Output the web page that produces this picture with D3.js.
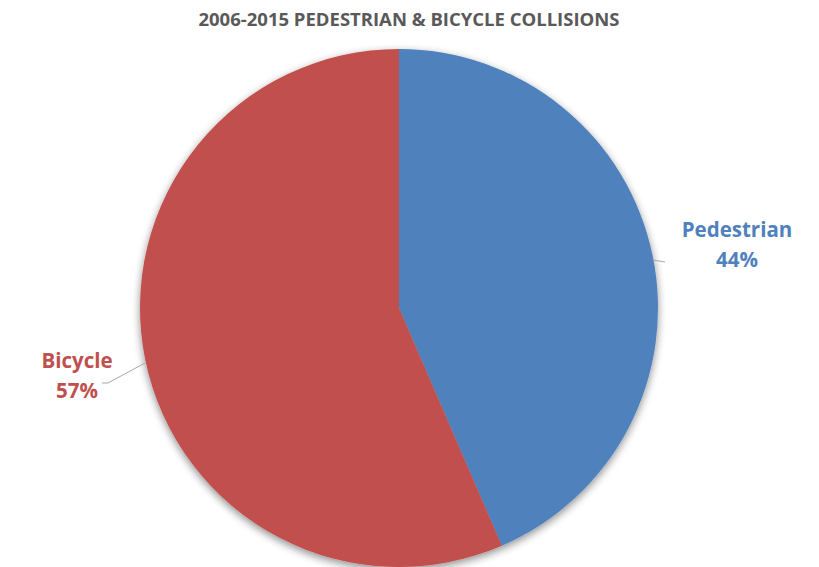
<!DOCTYPE html>
<html><head><meta charset="utf-8">
<script src="https://cdn.jsdelivr.net/npm/d3@7"></script>
<style>body{margin:0;background:#fff}svg{display:block}</style>
</head><body>
<script>
const categories = ["Pedestrian", "Bicycle"];
const values = [43.5, 56.5];
const colors = ["#4F81BD", "#C0504D"];
const title = "2006-2015 PEDESTRIAN & BICYCLE COLLISIONS";

const W = 819, H = 567, cx = 399, cy = 308, R = 259;
const svg = d3.select("body").append("svg").attr("width", W).attr("height", H);
const defs = svg.append("defs");
const f = defs.append("filter").attr("id","sh").attr("x","-20%").attr("y","-20%").attr("width","140%").attr("height","140%");
f.append("feGaussianBlur").attr("in","SourceAlpha").attr("stdDeviation",4);
f.append("feOffset").attr("dx",0).attr("dy",3).attr("result","b");
f.append("feComponentTransfer").append("feFuncA").attr("type","linear").attr("slope",0.45);
const m = f.append("feMerge"); m.append("feMergeNode"); m.append("feMergeNode").attr("in","SourceGraphic");

svg.append("text").attr("x", 409).attr("y", 26).attr("text-anchor","middle")
  .attr("font-family","Open Sans, sans-serif").attr("font-weight","bold").attr("font-size",18.5)
  .attr("fill","#595959").text(title);

const data = categories.map((c,i)=>({c, v: values[i], col: colors[i]}));
const pie = d3.pie().value(d=>d.v).sort(null);
const arcs = pie(data);
const arc = d3.arc().innerRadius(0).outerRadius(R);
const g = svg.append("g").attr("transform",`translate(${cx},${cy})`);
g.append("g").attr("filter","url(#sh)").selectAll("path").data(arcs).join("path")
  .attr("d", arc).attr("fill", d=>d.data.col);

const total = d3.sum(values);
const leaders = [
  [[254,-48],[266,-46]],
  [[-254,55],[-291,75],[-297,75]]
];
const labelPos = [[737, 237], [77, 368]];
arcs.forEach((a,i)=>{
  g.append("path").attr("d", d3.line()(leaders[i])).attr("fill","none").attr("stroke","#A6A6A6").attr("stroke-width",1);
  const t = svg.append("text").attr("x", labelPos[i][0]).attr("y", labelPos[i][1]).attr("text-anchor","middle")
    .attr("font-family","Open Sans, sans-serif").attr("font-weight","bold").attr("font-size",20.5)
    .attr("fill", a.data.col);
  t.append("tspan").attr("x", labelPos[i][0]).text(a.data.c);
  t.append("tspan").attr("x", labelPos[i][0]).attr("dy", 30).text(Math.round(a.data.v/total*100 + 1e-9)+"%");
});
</script>
</body></html>
